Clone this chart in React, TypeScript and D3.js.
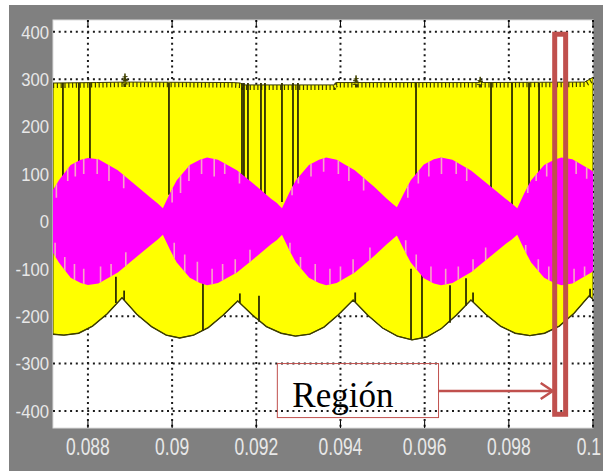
import React from "react";
import * as d3 from "d3";

// axis ticks
const xTicks = [0.088, 0.09, 0.092, 0.094, 0.096, 0.098, 0.1];
const xTickLabels = ["0.088", "0.09", "0.092", "0.094", "0.096", "0.098", "0.1"];
const yTicks = [400, 300, 200, 100, 0, -100, -200, -300, -400];

// yellow signal: upper edge [time, value]
const yellowTop: [number, number][] = [
  [0.08717, 292], [0.0882, 293], [0.08886, 294], [0.08888, 312], [0.0889, 294],
  [0.09145, 293], [0.09162, 292], [0.09168, 288], [0.09385, 288], [0.0939, 293],
  [0.09435, 293], [0.09437, 308], [0.09439, 293], [0.0973, 293], [0.09732, 305],
  [0.09734, 293], [0.0998, 294], [0.1, 304],
];

// yellow signal: lower envelope [time, value]
const yellowBottom: [number, number][] = [
  [0.08717, -238], [0.08743, -240], [0.08778, -236], [0.08811, -221], [0.08846, -195],
  [0.08881, -161], [0.08916, -196], [0.08951, -222], [0.08986, -240], [0.09018, -246],
  [0.09051, -240], [0.09086, -224], [0.09121, -198], [0.09156, -168], [0.0919, -197],
  [0.09224, -222], [0.09259, -236], [0.09293, -242], [0.09327, -238], [0.09361, -223],
  [0.09395, -197], [0.0943, -166], [0.09465, -198], [0.095, -225], [0.09535, -242],
  [0.0957, -250], [0.09605, -244], [0.0964, -226], [0.09675, -198], [0.0971, -166],
  [0.09745, -196], [0.0978, -221], [0.09815, -236], [0.0985, -241], [0.09885, -236],
  [0.0992, -221], [0.09955, -194], [0.09991, -157], [0.1, -164],
];

// magenta signal: envelope amplitude [time, amplitude]
const magentaAmp: [number, number][] = [
  [0.08717, 66], [0.08731, 87], [0.08759, 119], [0.08783, 130], [0.088, 134],
  [0.08825, 131], [0.08871, 108], [0.08918, 73], [0.08952, 48], [0.08966, 38],
  [0.08978, 28], [0.08995, 60], [0.09011, 87], [0.09042, 119], [0.09066, 130],
  [0.09083, 135], [0.09109, 130], [0.09154, 108], [0.09202, 73], [0.09235, 48],
  [0.09249, 39], [0.09261, 28], [0.09278, 60], [0.09294, 87], [0.09325, 119],
  [0.09349, 130], [0.09366, 135], [0.09391, 130], [0.09434, 108], [0.0948, 73],
  [0.0951, 48], [0.09523, 38], [0.09534, 30], [0.09551, 60], [0.09567, 87],
  [0.09598, 120], [0.09622, 131], [0.09639, 135], [0.09666, 130], [0.09711, 107],
  [0.09759, 72], [0.09793, 47], [0.09807, 38], [0.0982, 28], [0.09837, 60],
  [0.09853, 87], [0.09884, 119], [0.09908, 130], [0.09925, 135], [0.09951, 131],
  [0.09996, 108], [0.1, 105],
];

// dark switching spikes hanging from the top edge [time, lowest value]
const topSpikes: [number, number][] = [
  [0.087406, 0], [0.087786, 0], [0.088048, 0], [0.089925, 56], [0.09166, 0],
  [0.091707, 0], [0.091802, 0], [0.092111, 0], [0.092206, 0], [0.09261, 41],
  [0.092872, 0], [0.09299, 0], [0.095795, 0], [0.097577, 0], [0.098076, 0],
  [0.09848, 0], [0.098718, 0],
];

// dark spikes near the lower envelope [time, top value, bottom value]
const bottomSpikes: [number, number, number][] = [
  [0.088665, -117, -172], [0.090733, -117, -230], [0.092064, -157, -212],
  [0.095676, -100, -250], [0.095937, -100, -245], [0.096603, -135, -214],
  [0.096983, -120, -178], [0.08886, -146, -166], [0.09161, -152, -172],
  [0.09435, -150, -170], [0.09715, -150, -170], [0.09993, -142, -160],
];

// light stripes inside the magenta band [time, inner value]; sign = side
const pinkStripes: [number, number][] = [
  [0.08725, 50], [0.08752, 85], [0.0877, 95], [0.0879, 100], [0.08822, 100], [0.0885, 85], [0.08885, 70],
  [0.08722, -45], [0.08745, -75], [0.08768, -90], [0.0879, -100], [0.0883, -95], [0.08855, -90], [0.0889, -65],
  [0.09, 40], [0.0902, 60], [0.0904, 85], [0.0907, 100], [0.091, 95], [0.09125, 100], [0.0916, 80],
  [0.09005, -45], [0.0903, -70], [0.0906, -85], [0.09095, -100], [0.0912, -90], [0.0915, -80], [0.09185, -60],
  [0.09285, 55], [0.093, 80], [0.0933, 95], [0.0936, 105], [0.09395, 100], [0.0942, 85], [0.09455, 65],
  [0.0928, -45], [0.09305, -75], [0.0934, -90], [0.09375, -100], [0.094, -95], [0.0943, -80], [0.0947, -55],
  [0.0956, 50], [0.09585, 80], [0.0961, 95], [0.0964, 100], [0.09675, 100], [0.097, 85],
  [0.09555, -40], [0.0958, -70], [0.09615, -95], [0.0965, -100], [0.0968, -95], [0.09715, -80], [0.09745, -55],
  [0.09845, 60], [0.09865, 85], [0.0989, 95], [0.0996, 100], [0.09985, 90],
  [0.0984, -50], [0.0987, -80], [0.09895, -95], [0.09955, -100], [0.0998, -95],
];

// annotation: highlighted region and label box
const regionX = [0.09909, 0.09935];
const regionY = [-407, 395];
const labelBoxX = [0.0925, 0.09633];
const labelBoxY = [-300, -414];
const labelText = "Región";
const arrowY = -358;

const W = 603;
const H = 471;
const plot = { left: 53, right: 593, top: 20, bottom: 428 };
const red = "#c0504d";

export default function App() {
  const x = d3.scaleLinear().domain([0.08717, 0.1]).range([plot.left, plot.right]);
  const y = d3.scaleLinear().domain([-436, 425]).range([plot.bottom, plot.top]);

  const line = d3
    .line<[number, number]>()
    .x(d => x(d[0]))
    .y(d => y(d[1]));
  const yellowPath = line([...yellowTop, ...yellowBottom.slice().reverse()]) + "Z";
  const magenta = d3
    .area<[number, number]>()
    .x(d => x(d[0]))
    .y0(d => y(-d[1]))
    .y1(d => y(d[1]));
  const magentaPath = magenta(magentaAmp) || "";
  const teethTop = d3
    .line<[number, number]>()
    .x(d => x(d[0]))
    .y(d => y(d[1]) + 2.5);

  const labelFont = "'Liberation Sans', Arial, sans-serif";

  return (
    <svg
      width={W}
      height={H}
      style={{ position: "absolute", left: 0, top: 0 }}
    >
      <defs>
        <clipPath id="plotClip">
          <rect x={plot.left} y={plot.top} width={plot.right - plot.left} height={plot.bottom - plot.top} />
        </clipPath>
        <clipPath id="magClip">
          <path d={magentaPath} />
        </clipPath>
      </defs>
      <rect x={0} y={0} width={W} height={H} fill="#ffffff" />
      <rect x={9} y={5} width={W - 9} height={H - 5} fill="#808080" />
      <rect
        x={plot.left}
        y={plot.top}
        width={plot.right - plot.left}
        height={plot.bottom - plot.top}
        fill="#ffffff"
        stroke="#dcdcdc"
        strokeWidth={1}
      />

      {/* dotted grid */}
      <g stroke="#1a1a1a" strokeWidth={2} strokeDasharray="2 3.7">
        {xTicks.map(t => (
          <line key={"gx" + t} x1={x(t)} x2={x(t)} y1={plot.top} y2={plot.bottom} />
        ))}
        {yTicks.map(v => (
          <line key={"gy" + v} x1={plot.left} x2={plot.right} y1={y(v)} y2={y(v)} />
        ))}
      </g>

      <g clipPath="url(#plotClip)">
        <path d={yellowPath} fill="#ffff00" stroke="#3d3d00" strokeWidth={1} />
        <path
          d={teethTop(yellowTop) || ""}
          fill="none"
          stroke="#3d3d00"
          strokeWidth={5}
          strokeDasharray="1.2 2.6"
        />
        <path
          d={line(yellowBottom) || ""}
          fill="none"
          stroke="#3d3d00"
          strokeWidth={1.4}
        />
        <g stroke="#2e2e00" strokeWidth={1.8}>
          {topSpikes.map(([t, v], i) => (
            <line key={"ts" + i} x1={x(t)} x2={x(t)} y1={y(292)} y2={y(v)} />
          ))}
          {bottomSpikes.map(([t, v1, v0], i) => (
            <line key={"bs" + i} x1={x(t)} x2={x(t)} y1={y(v1)} y2={y(v0)} />
          ))}
        </g>
        <path d={magentaPath} fill="#ff00ff" />
        <g clipPath="url(#magClip)" stroke="#f7a3c6" strokeWidth={1.6}>
          {pinkStripes.map(([t, v], i) => (
            <line
              key={"ps" + i}
              x1={x(t)}
              x2={x(t)}
              y1={y(v)}
              y2={y(v > 0 ? 200 : -200)}
            />
          ))}
        </g>
      </g>

      {/* tick marks */}
      <g stroke="#000" strokeWidth={1}>
        {xTicks.map(t => (
          <g key={"tk" + t}>
            <line x1={x(t)} x2={x(t)} y1={plot.bottom} y2={plot.bottom - 7} />
            <line x1={x(t)} x2={x(t)} y1={plot.top} y2={plot.top + 7} />
          </g>
        ))}
      </g>

      {/* tick labels */}
      <g fill="#e8e8e8" fontFamily={labelFont}>
        {yTicks.map(v => (
          <text
            key={"yl" + v}
            transform={`translate(49,${y(v)}) scale(0.88,1)`}
            textAnchor="end"
            dy="0.36em"
            fontSize={19}
          >
            {v}
          </text>
        ))}
        {xTicks.map((t, i) => {
          const last = i === xTicks.length - 1;
          return (
            <text
              key={"xl" + t}
              transform={`translate(${last ? W - 2 : x(t)},455) scale(0.76,1)`}
              textAnchor={last ? "end" : "middle"}
              fontSize={23}
            >
              {xTickLabels[i]}
            </text>
          );
        })}
      </g>

      {/* annotation */}
      <rect
        x={x(regionX[0])}
        y={y(regionY[1])}
        width={x(regionX[1]) - x(regionX[0])}
        height={y(regionY[0]) - y(regionY[1])}
        fill="none"
        stroke={red}
        strokeWidth={5}
      />
      <rect
        x={x(labelBoxX[0])}
        y={y(labelBoxY[0])}
        width={x(labelBoxX[1]) - x(labelBoxX[0])}
        height={y(labelBoxY[1]) - y(labelBoxY[0])}
        fill="none"
        stroke={red}
        strokeWidth={1}
      />
      <text
        x={x(labelBoxX[0]) + 15}
        y={y(-391)}
        fontFamily="'Liberation Serif', 'Times New Roman', serif"
        fontSize={35}
        fill="#000"
      >
        {labelText}
      </text>
      <g stroke={red} strokeWidth={2.5} fill="none">
        <line x1={x(labelBoxX[1])} x2={x(regionX[0]) - 2} y1={y(arrowY)} y2={y(arrowY)} />
        <polyline
          points={`${x(regionX[0]) - 14},${y(arrowY) - 8} ${x(regionX[0]) - 2},${y(arrowY)} ${x(regionX[0]) - 14},${y(arrowY) + 8}`}
        />
      </g>
    </svg>
  );
}
